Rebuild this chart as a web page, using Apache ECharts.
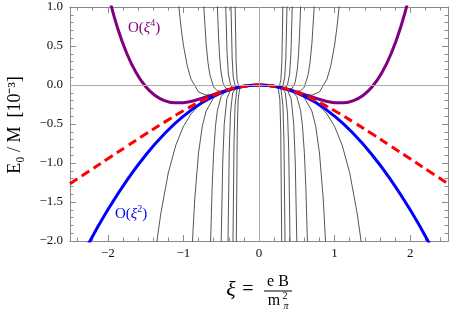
<!DOCTYPE html>
<html><head><meta charset="utf-8">
<script src="https://cdn.jsdelivr.net/npm/echarts@6/dist/echarts.min.js"></script>
<style>html,body{margin:0;padding:0;background:#fff}#c{width:450px;height:312px}</style>
</head><body><div id="c"></div>
<script>
// ---- data (positive-ξ half of each symmetric curve; mirrored to negative ξ) ----
const xTicks = [-2, -1, 0, 1, 2];
const xMinorTicks = [-2.4,-2.2,-1.8,-1.6,-1.4,-1.2,-0.8,-0.6,-0.4,-0.2,0.2,0.4,0.6,0.8,1.2,1.4,1.6,1.8,2.2,2.4];

const blueO2 = [[0,0],[0.25,-0.025],[0.5,-0.1],[0.75,-0.225],[1,-0.4],[1.25,-0.625],[1.5,-0.9],[1.75,-1.225],[2,-1.6],[2.25,-2.025],[2.5,-2.5]];
const redExact = [[0,0],[0.25,-0.0246],[0.5,-0.0947],[0.75,-0.2003],[1,-0.3305],[1.25,-0.4757],[1.5,-0.6292],[1.75,-0.7868],[2,-0.9461],[2.25,-1.1057],[2.5,-1.2649]];
const purpleO4 = [[0,0],[0.125,-0.0062],[0.25,-0.0243],[0.375,-0.0528],[0.5,-0.0891],[0.625,-0.1297],[0.75,-0.1699],[0.875,-0.2043],[1,-0.226],[1.125,-0.2276],[1.25,-0.2002],[1.375,-0.1343],[1.5,-0.0191],[1.625,0.157],[1.75,0.407],[1.875,0.7444],[2,1.184],[2.125,1.742]];

const o6  = [[0,0],[0.2,-0.0157],[0.3,-0.0348],[0.4,-0.0608],[0.5,-0.0939],[0.6,-0.1357],[0.7,-0.1902],[0.8,-0.2648],[0.9,-0.3722],[1.0,-0.5315],[1.1,-0.7705],[1.2,-1.1274],[1.3,-1.6536],[1.35,-2.0],[1.4,-2.4158]];
const o8  = [[0,0],[0.2,-0.0157],[0.3,-0.0347],[0.4,-0.0601],[0.5,-0.0898],[0.6,-0.1182],[0.7,-0.13],[0.8,-0.0897],[0.9,0.077],[0.95,0.2485],[1.0,0.512],[1.03,0.7286],[1.06,1.0],[1.1,1.4663]];
const o10 = [[0,0],[0.2,-0.0157],[0.3,-0.0347],[0.4,-0.0609],[0.5,-0.0969],[0.6,-0.1622],[0.7,-0.3357],[0.75,-0.5298],[0.8,-0.8716],[0.85,-1.4627],[0.88,-2.0],[0.92,-3.027]];
const o12 = [[0,0],[0.2,-0.0157],[0.3,-0.0347],[0.4,-0.0598],[0.5,-0.0816],[0.55,-0.0751],[0.6,-0.0254],[0.65,0.1316],[0.675,0.2891],[0.7,0.5339],[0.73,1.0],[0.76,1.749]];
const o14 = [[0,0],[0.2,-0.0157],[0.3,-0.0347],[0.4,-0.0627],[0.45,-0.0879],[0.5,-0.1474],[0.55,-0.3251],[0.575,-0.5244],[0.6,-0.8707],[0.62,-1.3188],[0.64,-2.0],[0.67,-3.711]];
const o16 = [[0,0],[0.15,-0.009],[0.275,-0.0297],[0.385,-0.0536],[0.44,-0.0428],[0.4785,0.0328],[0.506,0.1964],[0.5225,0.3871],[0.53625,0.6345],[0.55,1.0],[0.5665,1.667]];
const o18 = [[0,0],[0.15,-0.009],[0.25,-0.0246],[0.375,-0.0652],[0.425,-0.1715],[0.46,-0.5052],[0.48,-1.001],[0.5,-2.0],[0.525,-4.69]];
const o20 = [[0,0],[0.11,-0.0048],[0.22,-0.0191],[0.33,-0.0391],[0.374,-0.0124],[0.4048,0.1397],[0.4224,0.4063],[0.44,1.0],[0.462,2.77]];
const o22 = [[0,0],[0.1,-0.004],[0.205,-0.0167],[0.3075,-0.0404],[0.3485,-0.1014],[0.3772,-0.3641],[0.3936,-0.8482],[0.41,-2.0],[0.4305,-5.73]];
const o24 = [[0,0],[0.1,-0.004],[0.185,-0.0136],[0.2775,-0.0292],[0.3145,-0.0174],[0.3404,0.0973],[0.3552,0.3463],[0.37,1.0],[0.3885,3.34]];
const o26 = [[0,0],[0.09,-0.0032],[0.172,-0.0118],[0.258,-0.0273],[0.2924,-0.062],[0.3165,-0.2626],[0.3302,-0.7186],[0.344,-2.0],[0.3612,-7.0]];
const o28 = [[0,0],[0.08,-0.0026],[0.1575,-0.0099],[0.23625,-0.0217],[0.26775,-0.0172],[0.2898,0.0677],[0.3024,0.2955],[0.315,1.0],[0.33075,4.03]];
const o30 = [[0,0],[0.075,-0.0022],[0.15,-0.009],[0.225,-0.0204],[0.255,-0.0406],[0.276,-0.191],[0.288,-0.61],[0.3,-2.0],[0.315,-8.53]];
const thinCurves = [o6,o8,o10,o12,o14,o16,o18,o20,o22,o24,o26,o28,o30];

// ---- build ----
function mirror(half){
  const left = half.slice(1).map(p => [-p[0], p[1]]).reverse();
  return left.concat(half);
}
const serif = '"Liberation Serif","Times New Roman",serif';
const frameCol = '#8a8a8a';
const fmtX = v => v < 0 ? '\u2212' + (-v) : String(v);
const fmtY = v => (v < -1e-9 ? '\u2212' : '') + Math.abs(v).toFixed(1);

const series = [];
series.push({
  type:'line', data:[], xAxisIndex:0, yAxisIndex:0, silent:true,
  markLine:{silent:true, symbol:['none','none'], label:{show:false},
    lineStyle:{color:'#aaaaaa', width:1, type:'solid'},
    data:[{yAxis:0},{xAxis:0}], animation:false}
});
thinCurves.forEach(c => series.push({
  type:'line', data:mirror(c), showSymbol:false, symbol:'none', smooth:false,
  lineStyle:{color:'#2a2a2a', width:0.8}, silent:true, clip:true
}));
series.push({type:'line', data:mirror(purpleO4), symbol:'none', smooth:0.4,
  lineStyle:{color:'#800080', width:3}, clip:true});
series.push({type:'line', data:mirror(blueO2), symbol:'none', smooth:true,
  lineStyle:{color:'#0000ff', width:3}, clip:true});
series.push({type:'line', data:mirror(redExact), symbol:'none', smooth:true,
  lineStyle:{color:'#ff0000', width:3, type:[9,5]}, clip:true});

const grid = {left:70, right:2, top:7, bottom:71};
const option = {
  animation:false,
  backgroundColor:'#fff',
  grid:[Object.assign({}, grid), Object.assign({}, grid)],
  xAxis:[
    {gridIndex:0, type:'value', min:-2.5, max:2.5, position:'bottom',
     axisLine:{show:true, onZero:false, lineStyle:{color:frameCol, width:1}},
     axisTick:{show:true, inside:true, length:6, customValues:xTicks, lineStyle:{color:frameCol}},
     axisLabel:{show:true, customValues:xTicks, formatter:fmtX, margin:6, color:'#111', fontFamily:serif, fontSize:13},
     splitLine:{show:false}},
    {gridIndex:0, type:'value', min:-2.5, max:2.5, position:'top',
     axisLine:{show:true, onZero:false, lineStyle:{color:frameCol, width:1}},
     axisTick:{show:true, inside:true, length:6, customValues:xTicks, lineStyle:{color:frameCol}},
     axisLabel:{show:false}, splitLine:{show:false}},
    {gridIndex:1, type:'value', min:-2.5, max:2.5, position:'bottom',
     axisLine:{show:false, onZero:false},
     axisTick:{show:true, inside:true, length:3.5, customValues:xMinorTicks, lineStyle:{color:frameCol}},
     axisLabel:{show:false}, splitLine:{show:false}},
    {gridIndex:1, type:'value', min:-2.5, max:2.5, position:'top',
     axisLine:{show:false, onZero:false},
     axisTick:{show:true, inside:true, length:3.5, customValues:xMinorTicks, lineStyle:{color:frameCol}},
     axisLabel:{show:false}, splitLine:{show:false}}
  ],
  yAxis:[
    {gridIndex:0, type:'value', min:-2, max:1, interval:0.5, position:'left',
     axisLine:{show:true, onZero:false, lineStyle:{color:frameCol, width:1}},
     axisTick:{show:true, inside:true, length:6, lineStyle:{color:frameCol}},
     minorTick:{show:true, splitNumber:5, length:3.5, lineStyle:{color:frameCol}},
     axisLabel:{formatter:fmtY, margin:7, color:'#111', fontFamily:serif, fontSize:13},
     splitLine:{show:false}, minorSplitLine:{show:false}},
    {gridIndex:0, type:'value', min:-2, max:1, interval:0.5, position:'right',
     axisLine:{show:true, onZero:false, lineStyle:{color:frameCol, width:1}},
     axisTick:{show:true, inside:true, length:6, lineStyle:{color:frameCol}},
     minorTick:{show:true, splitNumber:5, length:3.5, lineStyle:{color:frameCol}},
     axisLabel:{show:false}, splitLine:{show:false}, minorSplitLine:{show:false}},
    {gridIndex:1, type:'value', min:-2, max:1, show:false}
  ],
  series: series,
  graphic:[
    {type:'text', x:15, y:125, rotation:Math.PI/2, silent:true,
     style:{text:'E\u2080 / M  [10\u207B\u00B3]', font:'18px ' + serif, fill:'#000', align:'center', verticalAlign:'middle'}},
    {type:'text', x:128, y:28, silent:true,
     style:{text:'{a|O(}{i|\u03BE}{s|4}{a|)}', align:'left', verticalAlign:'middle',
       rich:{a:{fontFamily:serif, fontSize:15, fill:'#800080'},
             i:{fontFamily:serif, fontSize:15, fontStyle:'italic', fill:'#800080'},
             s:{fontFamily:serif, fontSize:10, fill:'#800080', padding:[0,0,9,0]}}}},
    {type:'text', x:115, y:214, silent:true,
     style:{text:'{a|O(}{i|\u03BE}{s|2}{a|)}', align:'left', verticalAlign:'middle',
       rich:{a:{fontFamily:serif, fontSize:15, fill:'#0000ff'},
             i:{fontFamily:serif, fontSize:15, fontStyle:'italic', fill:'#0000ff'},
             s:{fontFamily:serif, fontSize:10, fill:'#0000ff', padding:[0,0,9,0]}}}},
    {type:'text', x:231, y:290, silent:true,
     style:{text:'\u03BE', font:'italic 22px ' + serif, fill:'#000', align:'center', verticalAlign:'middle'}},
    {type:'text', x:248, y:290, silent:true,
     style:{text:'=', font:'20px ' + serif, fill:'#000', align:'center', verticalAlign:'middle'}},
    {type:'text', x:278, y:282, silent:true,
     style:{text:'e B', font:'16px ' + serif, fill:'#000', align:'center', verticalAlign:'middle'}},
    {type:'line', silent:true, shape:{x1:264, y1:291, x2:292, y2:291}, style:{stroke:'#000', lineWidth:1}},
    {type:'text', x:274, y:301, silent:true,
     style:{text:'m', font:'16px ' + serif, fill:'#000', align:'center', verticalAlign:'middle'}},
    {type:'text', x:285, y:296, silent:true,
     style:{text:'2', font:'10px ' + serif, fill:'#000', align:'center', verticalAlign:'middle'}},
    {type:'text', x:286, y:306, silent:true,
     style:{text:'\u03C0', font:'italic 10px ' + serif, fill:'#000', align:'center', verticalAlign:'middle'}}
  ]
};
const chart = echarts.init(document.getElementById('c'), null, {renderer:'canvas'});
chart.setOption(option);
</script></body></html>
